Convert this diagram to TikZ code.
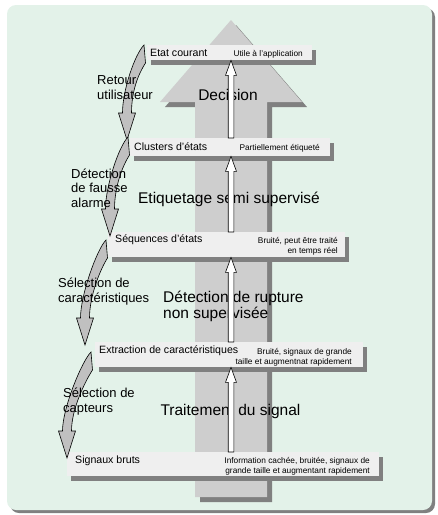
\documentclass[tikz,border=0pt]{standalone}
\usepackage{fontspec}
\setmainfont{Liberation Sans}
\usepackage{xcolor}
\usepackage{tikz}
\usetikzlibrary{calc, shadows, positioning}

\definecolor{paneltint}{RGB}{227,242,233}
\definecolor{shaftgray}{RGB}{206,206,206}
\definecolor{shadegray}{RGB}{128,128,128}
\definecolor{cardgray}{RGB}{239,239,239}
\definecolor{bendgray}{RGB}{192,192,192}

\tikzset{
  cardbox/.style={fill=cardgray, inner sep=0pt, anchor=north west,
    drop shadow={shadow xshift=4pt, shadow yshift=-5pt, opacity=1, fill=shadegray}},
  cardtxt/.style={inner sep=0pt, anchor=base west, font=\fontsize{10.6}{12}\selectfont},
  notetxt/.style={inner sep=0pt, anchor=base east, align=right, font=\fontsize{8.3}{10}\selectfont},
  phasetxt/.style={inner sep=0pt, font=\fontsize{15.5}{15.5}\selectfont},
  looptxt/.style={inner sep=0pt, anchor=base west, align=left, font=\fontsize{13}{14.5}\selectfont},
  uparrow/.style={draw=black, fill=white, line width=0.6pt},
  bendarrow/.style={draw=black, fill=bendgray, line width=0.6pt}
}

% hollow up arrow from #1 (bottom) to #2 (tip)
\newcommand\uparr[2]{%
  \path[uparrow] let \p1=(#1), \p2=(#2) in
    (\x1-2.8pt,\y1) -- (\x1-2.8pt,\y2-15pt) -- (\x1-5.5pt,\y2-15pt) -- (\x1,\y2)
    -- (\x1+5.5pt,\y2-15pt) -- (\x1+2.8pt,\y2-15pt) -- (\x1+2.8pt,\y1) -- cycle;}
% bent feedback arrow from #1 (top) to #2 (tip)
\newcommand\bendarr[2]{%
  \path[bendarrow] let \p1=(#1), \p2=(#2) in
    (\x1,\y1) .. controls (\x1-9pt,\y1-9pt) and (\x2-4.5pt,\y2+50pt) .. (\x2-4.5pt,\y2+27pt)
    -- (\x2-8.5pt,\y2+27pt) -- (\x2,\y2) -- (\x2+8.5pt,\y2+27pt) -- (\x2+4.5pt,\y2+27pt)
    .. controls (\x2+4.5pt,\y2+50pt) and (\x1-5pt,\y1-28pt) .. (\x1+1.5pt,\y1-18pt) -- cycle;}

\begin{document}
\begin{tikzpicture}[x=1pt, y=-1pt]
  \useasboundingbox (0,0) rectangle (438,515);
  % Panel
  \fill[paneltint, rounded corners=9pt,
    drop shadow={shadow xshift=3pt, shadow yshift=-3pt, opacity=1, fill=shadegray}]
    (7,5) rectangle (432,510);
  % Big arrow
  \fill[shaftgray, drop shadow={shadow xshift=5pt, shadow yshift=-5pt, opacity=1, fill=shadegray}]
    (195,497) -- (195,102) -- (160,102) -- (231,20) -- (302,102) -- (267,102) -- (267,497) -- cycle;
  \coordinate (axis) at (231,0);
  % Stage boxes
  \node[cardbox, minimum width=165pt, minimum height=15pt] (etat) at (147,45) {};
  \node[cardbox, minimum width=200pt, minimum height=18pt] (clusters) at (130,138) {};
  \node[cardbox, minimum width=237pt, minimum height=25pt] (sequences) at (108,232) {};
  \node[cardbox, minimum width=268pt, minimum height=25pt] (extraction) at (95,342) {};
  \node[cardbox, minimum width=312pt, minimum height=24pt] (signaux) at (67,452) {};
  % Box texts
  \node[cardtxt] (etatlbl) at (150,56) {Etat courant};
  \node[notetxt] (etatnote) at (303,56) {Utile à l'application};
  \node[cardtxt] (clusterslbl) at (134,150) {Clusters d'états};
  \node[notetxt] (clustersnote) at (320,150) {Partiellement étiqueté};
  \node[cardtxt] (sequenceslbl) at (115,242) {Séquences d'états};
  \node[notetxt] (sequencesnote) at (338,253) {Bruité, peut être traité\\en temps réel};
  \node[cardtxt] (extractionlbl) at (99,353) {Extraction de caractéristiques};
  \node[notetxt] (extractionnote) at (352,364) {Bruité, signaux de grande\\taille et augmentnat rapidement};
  \node[cardtxt] (signauxlbl) at (75,463) {Signaux bruts};
  \node[notetxt] (signauxnote) at (370,473) {Information cachée, bruitée, signaux de\\grande taille et augmentant rapidement};
  % Processing stages
  \node[phasetxt, anchor=base] (decision) at (228,100) {Decision};
  \node[phasetxt, anchor=base] (semisup) at (229,203) {Etiquetage semi supervisé};
  \node[phasetxt, anchor=base west, align=left] (rupture) at (163,318) {Détection de rupture\\non supervisée};
  \node[phasetxt, anchor=base] (signal) at (230.5,415) {Traitement du signal};
  % Upward flow
  \foreach \lo/\hi in {clusters/etat, sequences/clusters, extraction/sequences, signaux/extraction}
    \uparr{axis |- \lo.north}{axis |- \hi.south};
  % Feedback arrows
  \coordinate (b1a) at ($(etat.north west)+(-3,0)$);
  \coordinate (b1b) at ($(clusters.north west)+(-3,2)$);
  \coordinate (b2a) at ($(clusters.north west)+(-2,-1)$);
  \coordinate (b2b) at ($(sequences.north west)+(2,4)$);
  \coordinate (b3a) at ($(sequences.north west)+(-2,8)$);
  \coordinate (b3b) at ($(extraction.north west)+(-10,3)$);
  \coordinate (b4a) at ($(extraction.north west)+(-4,10)$);
  \coordinate (b4b) at ($(signaux.north west)+(0,6)$);
  \foreach \s/\t in {b1a/b1b, b2a/b2b, b3a/b3b, b4a/b4b}
    \bendarr{\s}{\t};
  \node[looptxt] (retour) at (97,99) {Retour\\utilisateur};
  \node[looptxt] (fausse) at (71,207) {Détection\\de fausse\\alarme};
  \node[looptxt] (selcar) at (58,302) {Sélection de\\caractéristiques};
  \node[looptxt] (selcap) at (63,412) {Sélection de\\capteurs};
\end{tikzpicture}
\end{document}
